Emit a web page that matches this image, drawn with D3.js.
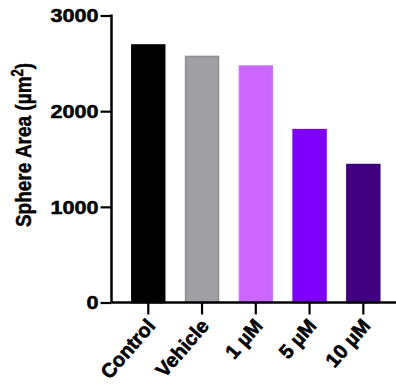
<!DOCTYPE html>
<html><head><meta charset="utf-8">
<script src="https://cdn.jsdelivr.net/npm/d3@7"></script>
<style>body{margin:0;background:#fff}svg{display:block}</style>
</head><body>
<svg id="c" width="396" height="387"></svg>
<script>
const categories = ["Control", "Vehicle", "1 µM", "5 µM", "10 µM"];
const values = [2700, 2580, 2480, 1815, 1450];
const fills = ["#000000", "#a0a0a4", "#cc66ff", "#8000ff", "#400080"];
const strokes = ["#000000", "#8e8e92", "#c878ff", "#7a00f2", "#3a0078"];
const yTicks = [0, 1000, 2000, 3000];
const yLabel = "Sphere Area (µm";

const svg = d3.select("#c");
const font = "'Liberation Sans', Arial, sans-serif";
const sx = 1.2;
const axisX = 111.5, axisRight = 396;
const y = d3.scaleLinear().domain([0, 3000]).range([302.5, 15.5]);
const x = d3.scaleBand().domain(categories).range([121.4, 390.2]).paddingInner(0.36).paddingOuter(0.18);

// bars
svg.selectAll("rect.bar").data(values).join("rect")
  .attr("x", (d, i) => x(categories[i]) + 0.75)
  .attr("width", x.bandwidth() - 1.5)
  .attr("y", d => y(d) + 0.75)
  .attr("height", d => y(0) - y(d) - 0.75)
  .attr("fill", (d, i) => fills[i])
  .attr("stroke", (d, i) => strokes[i])
  .attr("stroke-width", 1.5);

// y axis
const yAxis = svg.append("g").attr("transform", `translate(${axisX},0)`)
  .call(d3.axisLeft(y).tickValues(yTicks).tickSize(11).tickPadding(1).tickFormat(d3.format("d")));
yAxis.select(".domain").attr("d", `M0,${y(3000)-1}V${y(0)}`).attr("stroke", "#000").attr("stroke-width", 2.5);
yAxis.selectAll(".tick line").attr("stroke", "#000").attr("stroke-width", 2.2);
yAxis.selectAll(".tick text")
  .attr("x", null).attr("dy", null)
  .attr("transform", `translate(-13,0) scale(${sx},1)`)
  .attr("dy", "0.36em")
  .attr("font-family", font).attr("font-weight", "bold").attr("font-size", 18)
  .attr("fill", "#000").attr("stroke", "#000").attr("stroke-width", 0.5);

// x axis
const xAxis = svg.append("g").attr("transform", `translate(0,${y(0)})`)
  .call(d3.axisBottom(x).tickSize(12).tickFormat(""));
xAxis.select(".domain").attr("d", `M${axisX},0H${axisRight}`).attr("stroke", "#000").attr("stroke-width", 2.5);
xAxis.selectAll(".tick line").attr("stroke", "#000").attr("stroke-width", 2.2);

svg.append("g").selectAll("text").data(categories).join("text")
  .attr("transform", d => `translate(${x(d) + x.bandwidth() / 2 + 8},${y(0) + 24}) rotate(-49)`)
  .attr("text-anchor", "end")
  .attr("font-family", font).attr("font-weight", "bold").attr("font-size", 20)
  .attr("stroke", "#000").attr("stroke-width", 0.6)
  .text(d => d);

// y label
const yl = svg.append("text")
  .attr("transform", `translate(31,145) scale(${sx},1) rotate(-90)`)
  .attr("text-anchor", "middle")
  .attr("font-family", font).attr("font-weight", "bold").attr("font-size", 19)
  .attr("stroke", "#000").attr("stroke-width", 0.4);
yl.append("tspan").text(yLabel);
yl.append("tspan").attr("font-size", 13).attr("dy", -7).text("2");
yl.append("tspan").attr("dy", 7).text(")");
</script>
</body></html>
